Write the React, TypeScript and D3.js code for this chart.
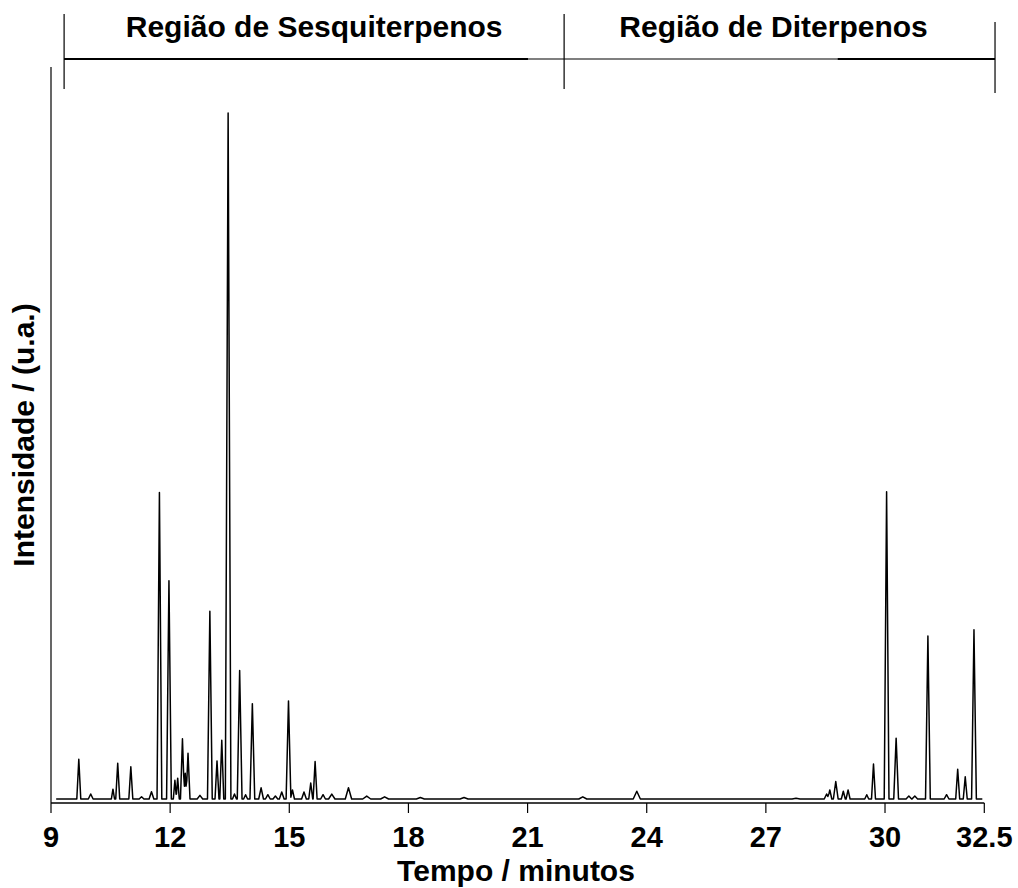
import React from "react";
import * as d3 from "d3";

// Peak apex retention times (min) and apex intensities (a.u., tallest = 100)
const peakTimes = [9.70, 10.00, 10.56, 10.68, 11.01, 11.28, 11.53, 11.73, 11.97, 12.12, 12.19, 12.31, 12.38, 12.45, 12.75, 13.00, 13.18, 13.30, 13.46, 13.62, 13.75, 13.9, 14.07, 14.29, 14.46, 14.65, 14.81, 14.98, 15.08, 15.37, 15.54, 15.65, 15.85, 16.07, 16.49, 16.95, 17.4, 18.3, 19.4, 22.39, 23.75, 27.76, 28.53, 28.61, 28.76, 28.95, 29.07, 29.54, 29.71, 30.04, 30.28, 30.60, 30.75, 31.08, 31.55, 31.83, 32.02, 32.24];
const peakHeights = [6.33, 1.3, 2.0, 5.75, 5.26, 0.9, 1.64, 45.0, 32.2, 3.3, 3.6, 9.3, 4.3, 7.2, 1.1, 27.8, 6.1, 9.1, 100, 1.3, 19.2, 1.2, 14.4, 2.2, 1.2, 1.0, 1.6, 14.8, 1.9, 1.6, 2.9, 6.0, 1.2, 1.3, 2.2, 1.0, 0.9, 0.8, 0.8, 0.9, 1.7, 0.7, 1.3, 1.9, 3.1, 1.7, 1.9, 1.2, 5.65, 45.1, 9.4, 1.0, 1.0, 24.2, 1.2, 4.9, 3.8, 25.1];
const peakHalfWidths = [0.05, 0.06, 0.04, 0.05, 0.05, 0.06, 0.06, 0.06, 0.06, 0.04, 0.04, 0.05, 0.04, 0.05, 0.07, 0.06, 0.05, 0.05, 0.07, 0.05, 0.06, 0.05, 0.06, 0.06, 0.06, 0.06, 0.06, 0.06, 0.05, 0.06, 0.05, 0.05, 0.06, 0.08, 0.08, 0.1, 0.1, 0.1, 0.1, 0.1, 0.09, 0.1, 0.06, 0.05, 0.06, 0.05, 0.05, 0.05, 0.05, 0.06, 0.06, 0.07, 0.07, 0.06, 0.06, 0.05, 0.05, 0.06];
const baselineLevel = 0.58;
const traceStart = 9.13;
const traceEnd = 32.45;

const xTicks = [9, 12, 15, 18, 21, 24, 27, 30, 32.5];
const xTickLabels = ["9", "12", "15", "18", "21", "24", "27", "30", "32.5"];

const regionBounds = [9.33, 21.92, 32.77];
const regionLabels = ["Região de Sesquiterpenos", "Região de Diterpenos"];
const regionThick = [[9.33, 21.01], [28.81, 32.77]];

const xTitle = "Tempo / minutos";
const yTitle = "Intensidade / (u.a.)";

export default function App() {
  const W = 1018, H = 888;
  const x = d3.scaleLinear().domain([9, 32.5]).range([51, 984.3]);
  const y = d3.scaleLinear().domain([0, 100]).range([803, 113]);

  // Build the trace vertices: baseline + triangular peaks from the read peak table
  const verts = new Set<number>([traceStart, traceEnd]);
  peakTimes.forEach((t, i) => {
    verts.add(t - peakHalfWidths[i]);
    verts.add(t);
    verts.add(t + peakHalfWidths[i]);
  });
  const times = Array.from(verts).sort((a, b) => a - b);
  const pts: [number, number][] = times.map((t) => {
    let v = baselineLevel;
    peakTimes.forEach((pt, i) => {
      const w = peakHalfWidths[i];
      const d = Math.abs(t - pt);
      if (d < w) v += (peakHeights[i] - baselineLevel) * (1 - d / w);
    });
    return [t, v];
  });
  const line = d3.line<[number, number]>().x((d) => x(d[0])).y((d) => y(d[1]));

  const font = "'Liberation Sans', Arial, sans-serif";
  const axisY = 803;
  const brY = 59;

  return (
    <svg width={W} height={H} style={{ position: "absolute", left: 0, top: 0, background: "#fff" }}>
      <rect width={W} height={H} fill="#fff" />
      {/* trace */}
      <path d={line(pts) || ""} fill="none" stroke="#000" strokeWidth={1.5} strokeLinejoin="round" />
      {/* axes */}
      <line x1={x(9)} x2={x(9)} y1={67} y2={axisY} stroke="#000" strokeWidth={1.2} />
      <line x1={x(9)} x2={x(32.5)} y1={axisY} y2={axisY} stroke="#000" strokeWidth={1.5} />
      {xTicks.map((t, i) => (
        <g key={t}>
          <line x1={x(t)} x2={x(t)} y1={axisY} y2={axisY + 10} stroke="#000" strokeWidth={1.2} />
          <text x={x(t)} y={847} textAnchor="middle" fontFamily={font} fontWeight="bold" fontSize={29} fill="#000">
            {xTickLabels[i]}
          </text>
        </g>
      ))}
      <text x={516} y={881} textAnchor="middle" fontFamily={font} fontWeight="bold" fontSize={30} fill="#000">
        {xTitle}
      </text>
      <text
        transform={`translate(34,${435}) rotate(-90)`}
        textAnchor="middle"
        fontFamily={font}
        fontWeight="bold"
        fontSize={30}
        fill="#000"
      >
        {yTitle}
      </text>
      {/* region brackets */}
      <line x1={x(regionBounds[0])} x2={x(regionBounds[2])} y1={brY} y2={brY} stroke="#000" strokeWidth={1.2} />
      {regionThick.map((s, i) => (
        <line key={i} x1={x(s[0])} x2={x(s[1])} y1={brY} y2={brY} stroke="#000" strokeWidth={2.2} />
      ))}
      {regionBounds.map((b, i) => (
        <line key={i} x1={x(b)} x2={x(b)} y1={i === 2 ? 22 : 14} y2={i === 2 ? 93 : 89} stroke="#000" strokeWidth={1.2} />
      ))}
      {regionLabels.map((lab, i) => (
        <text
          key={lab}
          x={(x(regionBounds[i]) + x(regionBounds[i + 1])) / 2 - (i === 1 ? 6 : 0)}
          y={37}
          textAnchor="middle"
          fontFamily={font}
          fontWeight="bold"
          fontSize={30}
          fill="#000"
        >
          {lab}
        </text>
      ))}
    </svg>
  );
}
